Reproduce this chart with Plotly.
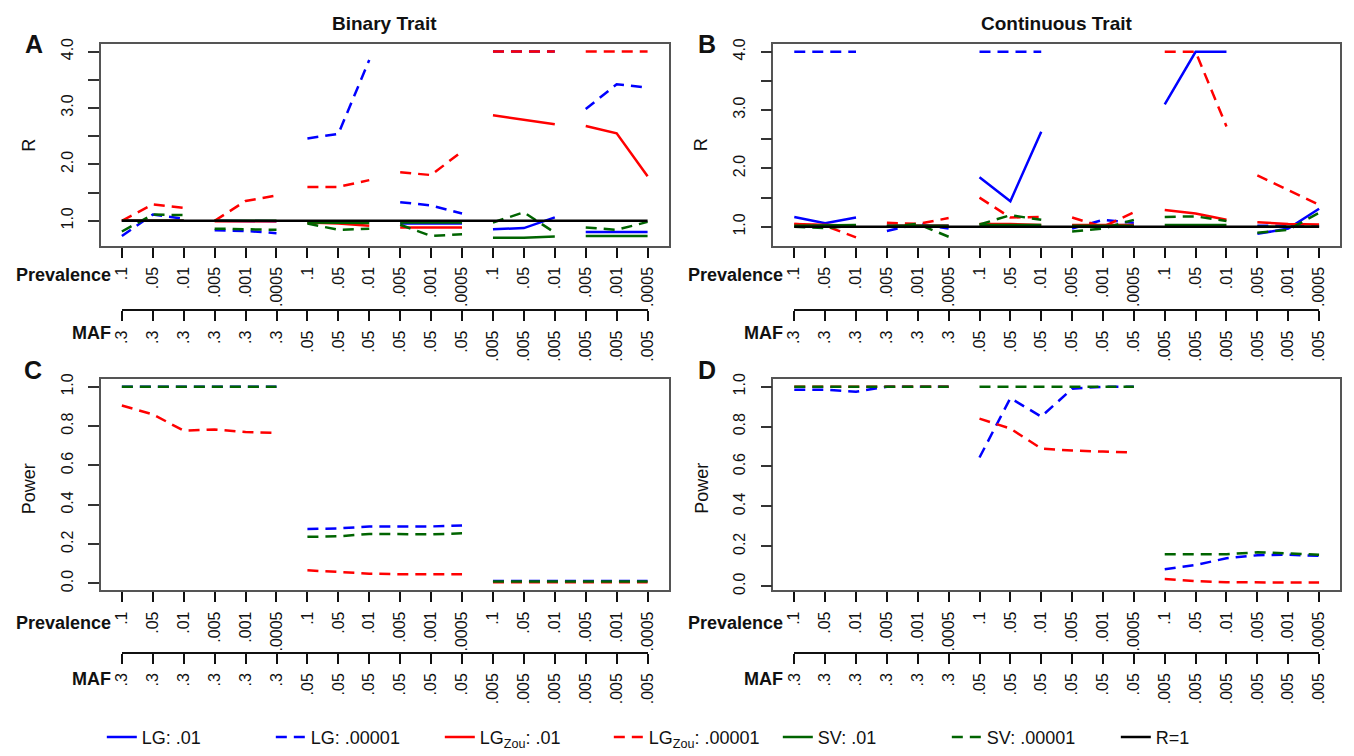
import plotly.graph_objects as go

# ---------------- data ----------------
positions = list(range(1, 19))
prevalence_labels = [".1", ".05", ".01", ".005", ".001", ".0005",
                     ".1", ".05", ".01", ".005", ".001", ".0005",
                     ".1", ".05", ".01", ".005", ".001", ".0005"]
maf_labels = [".3", ".3", ".3", ".3", ".3", ".3",
              ".05", ".05", ".05", ".05", ".05", ".05",
              ".005", ".005", ".005", ".005", ".005", ".005"]
r_tickvals = [1.0, 2.0, 3.0, 4.0]
r_ticktext = ["1.0", "2.0", "3.0", "4.0"]
power_tickvals = [0.0, 0.2, 0.4, 0.6, 0.8, 1.0]
power_ticktext = ["0.0", "0.2", "0.4", "0.6", "0.8", "1.0"]

# Panel A: R, binary trait (groups of 3 positions)
A_lg_01 = [1.0, 1.0, 1.0, 1.0, 1.0, 0.99, 0.99, 0.99, 0.99, 0.95, 0.95, 0.95, 0.85, 0.87, 1.06, 0.80, 0.80, 0.80]
A_lg_00001 = [0.73, 1.11, 1.035, 0.83, 0.82, 0.78, 2.46, 2.54, 3.85, 1.33, 1.27, 1.13, 4.0, 4.0, 4.0, 2.98, 3.42, 3.36]
A_zou_01 = [1.0, 1.0, 1.0, 0.99, 0.99, 0.99, 0.97, 0.95, 0.91, 0.88, 0.88, 0.88, 2.87, 2.79, 2.71, 2.68, 2.55, 1.79]
A_zou_00001 = [1.0, 1.29, 1.23, 1.0, 1.35, 1.45, 1.60, 1.60, 1.72, 1.86, 1.81, 2.23, 4.0, 4.0, 4.0, 4.0, 4.0, 4.0]
A_sv_01 = [1.0, 1.0, 1.0, 1.0, 1.0, 1.0, 0.97, 0.97, 0.96, 0.97, 0.97, 0.97, 0.70, 0.70, 0.72, 0.73, 0.73, 0.73]
A_sv_00001 = [0.81, 1.11, 1.10, 0.86, 0.85, 0.84, 0.95, 0.84, 0.86, 0.93, 0.73, 0.76, 0.97, 1.15, 0.79, 0.88, 0.84, 0.98]
A_r1 = [1.0, 1.0, 1.0, 1.0, 1.0, 1.0, 1.0, 1.0, 1.0, 1.0, 1.0, 1.0, 1.0, 1.0, 1.0, 1.0, 1.0, 1.0]

# Panel B: R, continuous trait (groups of 3 positions)
B_lg_01 = [1.17, 1.06, 1.16, 1.02, 1.02, 1.02, 1.85, 1.44, 2.63, 1.02, 1.02, 1.03, 3.10, 4.0, 4.0, 0.88, 0.97, 1.31]
B_lg_00001 = [4.0, 4.0, 4.0, 0.93, 1.05, 0.97, 4.0, 4.0, 4.0, 0.97, 1.12, 1.07, None, None, None, 1.02, 1.02, 1.02]
B_zou_01 = [1.05, 1.03, 1.02, 1.02, 1.02, 1.02, 1.05, 1.05, 1.03, 1.03, 1.03, 1.03, 1.29, 1.23, 1.12, 1.08, 1.05, 1.04]
B_zou_00001 = [1.05, 1.02, 0.82, 1.07, 1.05, 1.15, 1.50, 1.16, 1.17, 1.16, 1.00, 1.25, 4.0, 4.0, 2.72, 1.88, 1.63, 1.38]
B_sv_01 = [1.02, 1.03, 1.03, 1.02, 1.02, 1.02, 1.03, 1.03, 1.03, 1.02, 1.02, 1.02, 1.03, 1.03, 1.03, 1.0, 1.0, 1.0]
B_sv_00001 = [1.0, 0.98, 1.02, 1.0, 1.05, 0.83, 1.04, 1.20, 1.12, 0.92, 0.97, 1.12, 1.17, 1.18, 1.10, 0.90, 0.95, 1.24]
B_r1 = [1.0, 1.0, 1.0, 1.0, 1.0, 1.0, 1.0, 1.0, 1.0, 1.0, 1.0, 1.0, 1.0, 1.0, 1.0, 1.0, 1.0, 1.0]

# Panel C: power, binary trait (groups of 6 positions)
C_lg_00001 = [1.0, 1.0, 1.0, 1.0, 1.0, 1.0, 0.277, 0.28, 0.29, 0.29, 0.29, 0.295, 0.012, 0.012, 0.012, 0.012, 0.012, 0.012]
C_zou_00001 = [0.905, 0.86, 0.777, 0.783, 0.77, 0.765, 0.067, 0.057, 0.05, 0.047, 0.048, 0.047, 0.006, 0.006, 0.006, 0.006, 0.006, 0.006]
C_sv_00001 = [1.0, 1.0, 1.0, 1.0, 1.0, 1.0, 0.237, 0.24, 0.252, 0.25, 0.25, 0.255, 0.01, 0.01, 0.01, 0.01, 0.01, 0.01]

# Panel D: power, continuous trait (groups of 6 positions)
D_lg_00001 = [0.985, 0.985, 0.975, 1.0, 1.0, 1.0, 0.645, 0.943, 0.85, 0.99, 1.0, 1.0, 0.085, 0.106, 0.14, 0.155, 0.158, 0.152]
D_zou_00001 = [1.0, 1.0, 1.0, 1.0, 1.0, 1.0, 0.84, 0.79, 0.69, 0.68, 0.675, 0.67, 0.036, 0.025, 0.02, 0.018, 0.018, 0.018]
D_sv_00001 = [1.0, 1.0, 1.0, 1.0, 1.0, 1.0, 1.0, 1.0, 1.0, 1.0, 1.0, 1.0, 0.16, 0.16, 0.16, 0.17, 0.165, 0.158]

# ---------------- layout constants ----------------
W, H = 1354, 756
FONT = "Liberation Sans, Arial, Helvetica, sans-serif"
BLUE, RED, GREEN, BLACK = "#0000ff", "#ff0000", "#006400", "#000000"
DASH = "11px,7px"
LW = 2.5

LEFT_BOX = (93, 668)
RIGHT_BOX = (774, 1348)
TOP_ROW = (39, 245)
BOT_ROW = (381, 597)
XR = [0.32, 18.68]


def fx(px):
    return px / W


def fy(py):
    return 1 - py / H


def tick_px(box, v):
    return box[0] + (v - XR[0]) / (XR[1] - XR[0]) * (box[1] - box[0])


def segmented(values, group):
    xs, ys = [], []
    for start in range(0, len(values), group):
        for i in range(start, start + group):
            xs.append(positions[i])
            ys.append(values[i])
        xs.append(None)
        ys.append(None)
    return xs, ys


styles = {
    "lg01": dict(name="LG: .01", color=BLUE, dash="solid"),
    "lg00001": dict(name="LG: .00001", color=BLUE, dash=DASH),
    "zou01": dict(name="LG<sub>Zou</sub>: .01", color=RED, dash="solid"),
    "zou00001": dict(name="LG<sub>Zou</sub>: .00001", color=RED, dash=DASH),
    "sv01": dict(name="SV: .01", color=GREEN, dash="solid"),
    "sv00001": dict(name="SV: .00001", color=GREEN, dash=DASH),
    "r1": dict(name="R=1", color=BLACK, dash="solid"),
}

panels = [
    dict(ax="", group=3, legend=True, series=[
        ("lg01", A_lg_01), ("lg00001", A_lg_00001), ("zou01", A_zou_01),
        ("zou00001", A_zou_00001), ("sv01", A_sv_01), ("sv00001", A_sv_00001), ("r1", A_r1)]),
    dict(ax="2", group=3, legend=False, series=[
        ("lg01", B_lg_01), ("lg00001", B_lg_00001), ("zou01", B_zou_01),
        ("zou00001", B_zou_00001), ("sv01", B_sv_01), ("sv00001", B_sv_00001), ("r1", B_r1)]),
    dict(ax="3", group=6, legend=False, series=[
        ("lg00001", C_lg_00001), ("zou00001", C_zou_00001), ("sv00001", C_sv_00001)]),
    dict(ax="4", group=6, legend=False, series=[
        ("lg00001", D_lg_00001), ("zou00001", D_zou_00001), ("sv00001", D_sv_00001)]),
]

fig = go.Figure()
# dummy traces to carry the MAF (second row) axes (added first so they sit underneath)
for i, yax in zip(range(5, 9), ["y", "y2", "y3", "y4"]):
    fig.add_trace(go.Scatter(x=[None], y=[None], xaxis="x%d" % i, yaxis=yax,
                             showlegend=False, hoverinfo="skip"))

for p in panels:
    for key, vals in p["series"]:
        st = styles[key]
        group = len(positions) if key == "r1" else p["group"]   # reference line is continuous
        xs, ys = segmented(vals, group)
        fig.add_trace(go.Scatter(
            x=xs, y=ys, mode="lines", name=st["name"], legendgroup=key,
            showlegend=p["legend"], connectgaps=False,
            line=dict(color=st["color"], width=LW, dash=st["dash"]),
            xaxis="x" + p["ax"], yaxis="y" + p["ax"], hoverinfo="skip"))

axis_font = dict(family=FONT, size=16, color="#111")
boxes = [(LEFT_BOX, TOP_ROW), (RIGHT_BOX, TOP_ROW), (LEFT_BOX, BOT_ROW), (RIGHT_BOX, BOT_ROW)]
yranges = [[0.556, 4.13], [0.675, 4.13], [-0.035, 1.04], [-0.021, 1.039]]
maf_line_py = [311, 311, 661, 661]
layout = {}
for i, ((bx, by), yr, mpy) in enumerate(zip(boxes, yranges, maf_line_py)):
    s = "" if i == 0 else str(i + 1)
    layout["xaxis" + s] = dict(
        domain=[fx(bx[0]), fx(bx[1])], range=XR, anchor="y" + s,
        showline=True, mirror=True, linecolor="#555", linewidth=1.5,
        ticks="outside", ticklen=10, tickwidth=1.5, tickcolor="#111",
        tickmode="array", tickvals=positions, ticktext=prevalence_labels,
        tickangle=-90, tickfont=axis_font, showgrid=False, zeroline=False,
        ticklabelstandoff=3)
    is_r = i < 2
    ydict = dict(
        domain=[fy(by[1]), fy(by[0])], range=yr, anchor="x" + s,
        showline=True, mirror=True, linecolor="#555", linewidth=1.5,
        ticks="outside", ticklen=11, tickwidth=1.5, tickcolor="#333",
        tickmode="array", tickvals=r_tickvals if is_r else power_tickvals,
        ticktext=r_ticktext if is_r else power_ticktext,
        tickangle=-90, tickfont=axis_font, showgrid=False, zeroline=False,
        ticklabelstandoff=9)
    if is_r:
        ydict["minor"] = dict(ticks="outside", tick0=0, dtick=0.5, ticklen=11,
                              tickwidth=1.5, tickcolor="#333", showgrid=False)
    layout["yaxis" + s] = ydict
    layout["xaxis%d" % (i + 5)] = dict(
        domain=[fx(tick_px(bx, 1)), fx(tick_px(bx, 18))], range=[0.999, 18.001],
        anchor="free", position=fy(mpy),
        showline=True, linecolor="#111", linewidth=1.5,
        ticks="outside", ticklen=10, tickwidth=1.5, tickcolor="#111",
        tickmode="array", tickvals=positions, ticktext=maf_labels,
        tickangle=-90, tickfont=axis_font, showgrid=False, zeroline=False,
        ticklabelstandoff=3)

ann = []


def text(x, y, t, size, bold=False, xanchor="center", angle=0):
    ann.append(dict(x=fx(x), y=fy(y), xref="paper", yref="paper", text=("<b>%s</b>" % t) if bold else t,
                    showarrow=False, xanchor=xanchor, yanchor="middle", textangle=angle,
                    font=dict(family=FONT, size=size, color="#111")))


text((LEFT_BOX[0] + LEFT_BOX[1]) / 2, 18, "Binary Trait", 19, bold=True)
text((RIGHT_BOX[0] + RIGHT_BOX[1]) / 2, 18, "Continuous Trait", 19, bold=True)
for letter, x, y in [("A", 25, 39), ("B", 707, 39), ("C", 24, 372), ("D", 707, 372)]:
    text(x, y, letter, 25, bold=True)
for x, y, t in [(20, 142, "R"), (701, 142, "R"), (20, 493, "Power"), (701, 493, "Power")]:
    text(x, y, t, 18, angle=-90)
for bx, prev_y, maf_y in [(LEFT_BOX, 275, 334), (RIGHT_BOX, 275, 334), (LEFT_BOX, 630, 688), (RIGHT_BOX, 630, 688)]:
    text(tick_px(bx, 1) - 9, prev_y, "Prevalence", 18, bold=True, xanchor="right")
    text(tick_px(bx, 1) - 9, maf_y, "MAF", 18, bold=True, xanchor="right")

fig.update_layout(
    width=W, height=H, margin=dict(l=0, r=0, t=0, b=0),
    paper_bgcolor="white", plot_bgcolor="rgba(0,0,0,0)",
    font=dict(family=FONT, color="#111"),
    showlegend=True,
    legend=dict(orientation="h", x=fx(94), y=fy(747), xanchor="left", yanchor="middle",
                entrywidth=124, entrywidthmode="pixels", bgcolor="rgba(0,0,0,0)",
                font=dict(family=FONT, size=18, color="#111"), tracegroupgap=0),
    annotations=ann,
    **layout)

fig.write_html("out.html")
